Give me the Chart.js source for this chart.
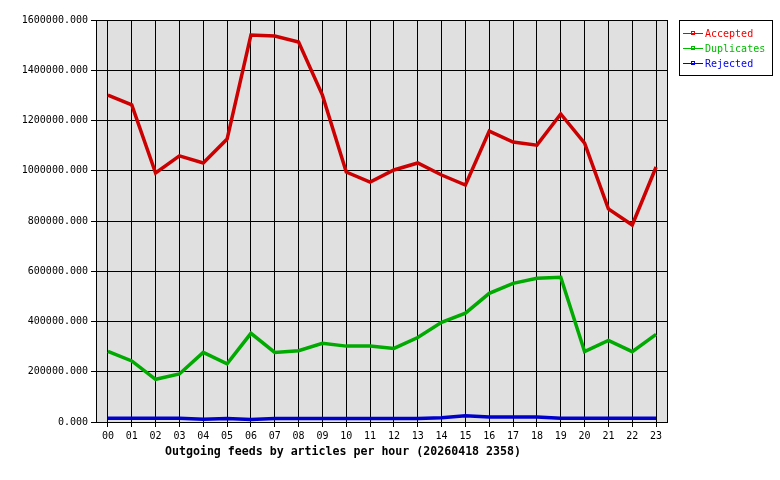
<!DOCTYPE html>
<html><head><meta charset="utf-8">
<script src="https://cdn.jsdelivr.net/npm/chart.js@4"></script>
<style>html,body{margin:0;padding:0;background:#fff}#wrap{width:780px;height:480px}</style>
</head><body><div id="wrap"><canvas id="c" width="780" height="480"></canvas></div>
<script>
const hours = ["00","01","02","03","04","05","06","07","08","09","10","11","12","13","14","15","16","17","18","19","20","21","22","23"];
const accepted = [1301000,1262000,991000,1059000,1031000,1126000,1540000,1536000,1512000,1301000,995000,955000,1003000,1031000,983000,943000,1158000,1114000,1102000,1226000,1110000,848000,784000,1015000];
const duplicates = [281000,243000,170000,191000,277000,232000,353000,277000,284000,313000,302000,302000,293000,336000,397000,433000,512000,552000,572000,576000,280000,325000,280000,349000];
const rejected = [15000,15000,15000,15000,11000,14000,10000,14000,14000,14000,14000,14000,14000,14000,17000,25000,20000,20000,20000,15000,15000,15000,15000,15000];
const yTicks = [0,200000,400000,600000,800000,1000000,1200000,1400000,1600000];
const xTitle = "Outgoing feeds by articles per hour (20260418 2358)";

const MONO = "'DejaVu Sans Mono', monospace";

const bgPlugin = {
  id: 'bg',
  beforeDraw(chart) {
    const {ctx, chartArea:a} = chart;
    ctx.save();
    ctx.fillStyle = '#fff';
    ctx.fillRect(0,0,chart.width,chart.height);
    ctx.fillStyle = '#e0e0e0';
    ctx.fillRect(a.left,a.top,a.right-a.left,a.bottom-a.top);
    ctx.restore();
  },
  afterDraw(chart) {
    const {ctx, chartArea:a} = chart;
    ctx.save();
    ctx.strokeStyle = '#000';
    ctx.lineWidth = 1;
    ctx.strokeRect(a.left+0.5,a.top+0.5,a.right-a.left-1,a.bottom-a.top);
    // x title
    ctx.font = "bold 11.6px " + MONO;
    ctx.fillStyle = '#000';
    ctx.textAlign = 'left';
    ctx.textBaseline = 'middle';
    ctx.fillText(xTitle, 165, 452);
    // legend
    const bx = 679, by = 20, bw = 93, bh = 55;
    ctx.fillStyle = '#fff';
    ctx.fillRect(bx,by,bw,bh);
    ctx.strokeRect(bx+0.5,by+0.5,bw,bh);
    ctx.font = "10px " + MONO;
    chart.data.datasets.forEach((ds,i) => {
      const y = by + 13 + i*15;
      ctx.strokeStyle = ds.legendColor;
      ctx.beginPath(); ctx.moveTo(bx+4,y+0.5); ctx.lineTo(bx+24,y+0.5); ctx.stroke();
      ctx.strokeRect(bx+12.5,y-1.5,3,3);
      ctx.fillStyle = ds.legendColor;
      ctx.fillText(ds.label, bx+26, y+1);
    });
    ctx.restore();
  }
};

new Chart(document.getElementById('c'), {
  type: 'line',
  data: {
    labels: hours,
    datasets: [
      {label:'Accepted', data:accepted, borderColor:'#cc0000', legendColor:'#ee0000', borderWidth:3.5, pointRadius:0, tension:0},
      {label:'Duplicates', data:duplicates, borderColor:'#00aa00', legendColor:'#00bb00', borderWidth:3.5, pointRadius:0, tension:0},
      {label:'Rejected', data:rejected, borderColor:'#0000cc', legendColor:'#0000ee', borderWidth:3.5, pointRadius:0, tension:0}
    ]
  },
  options: {
    responsive:false, animation:false, maintainAspectRatio:false,
    layout:{padding:{top:20,right:112,left:0,bottom:0}},
    plugins:{legend:{display:false}, tooltip:{enabled:false}},
    scales:{
      x:{
        offset:true,
        grid:{color:'#000', lineWidth:1, offset:false, drawTicks:true, tickLength:5, tickColor:'#000'},
        border:{display:false},
        ticks:{color:'#000', font:{family:MONO, size:10}, padding:3, maxRotation:0, autoSkip:false},
        afterFit(s){ s.height = 58; }
      },
      y:{
        min:0, max:1600000,
        afterBuildTicks(s){ s.ticks = yTicks.map(v=>({value:v})); },
        grid:{color:'#000', lineWidth:1, drawTicks:true, tickLength:5, tickColor:'#000'},
        border:{display:false},
        ticks:{color:'#000', font:{family:MONO, size:10}, padding:3, callback:v=>Number(v).toFixed(3)},
        afterFit(s){ s.width = 96; }
      }
    }
  },
  plugins:[bgPlugin]
});
</script></body></html>
